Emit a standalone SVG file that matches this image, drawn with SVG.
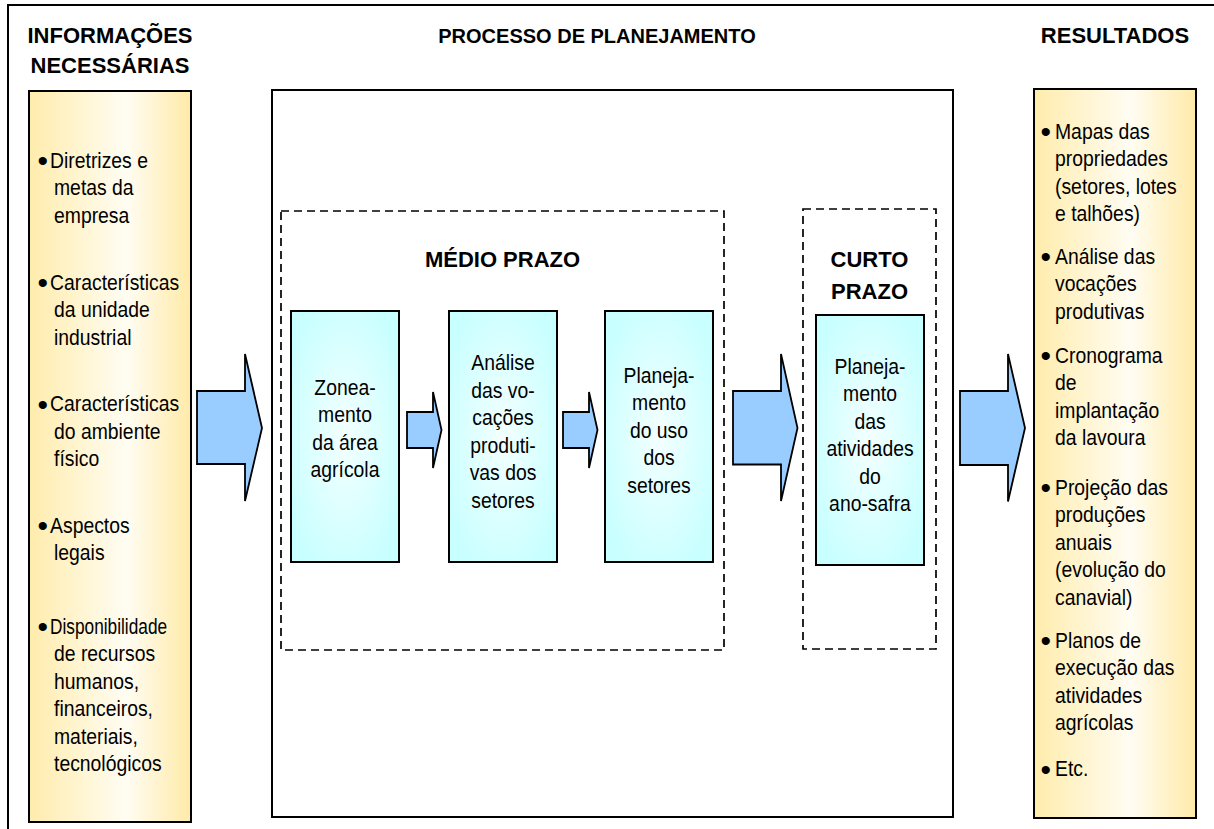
<svg xmlns="http://www.w3.org/2000/svg" width="1214" height="829" viewBox="0 0 1214 829">
  <defs>
    <linearGradient id="gradYellow" x1="0" y1="0" x2="1" y2="0">
      <stop offset="0" stop-color="#FFECAC"/>
      <stop offset="0.6" stop-color="#FFFDF3"/>
      <stop offset="1" stop-color="#FFEAA8"/>
    </linearGradient>
    <radialGradient id="gradCyan" cx="0.5" cy="0.5" r="0.6">
      <stop offset="0" stop-color="#F4FFFF"/>
      <stop offset="1" stop-color="#C8FFFF"/>
    </radialGradient>
    <style>
      .frame { fill: none; stroke: #000; stroke-width: 2; }
      .panel { fill: #fff; stroke: #000; stroke-width: 2; }
      .yellow { fill: url(#gradYellow); stroke: #000; stroke-width: 2; }
      .cyan { fill: url(#gradCyan); stroke: #000; stroke-width: 2; }
      .dash { fill: none; stroke: #000; stroke-width: 1.7; stroke-dasharray: 8 5; }
      .arrow { fill: #99CCFF; stroke: #000; stroke-width: 1.8; stroke-linejoin: miter; }
      .head { font-family: "Liberation Sans", Arial, sans-serif; font-weight: bold; font-size: 22px; fill: #000; text-anchor: middle; }
      .title { font-size: 20px; }
      .body { font-family: "Liberation Sans", Arial, sans-serif; font-size: 22px; fill: #000; }
      .mid { text-anchor: middle; }
      .bul { font-family: "Liberation Sans", Arial, sans-serif; font-size: 30px; fill: #000; }
    </style>
  </defs>

  <!-- outer frame (top and left rules) -->
  <path class="frame" d="M8,829 V5 H1214"/>

  <!-- column headings -->
  <g id="headings">
    <text class="head" x="110" y="43">INFORMAÇÕES</text>
    <text class="head" x="110" y="73">NECESSÁRIAS</text>
    <text class="head title" x="597" y="43">PROCESSO DE PLANEJAMENTO</text>
    <text class="head" x="1115" y="43">RESULTADOS</text>
  </g>

  <!-- input information column -->
  <g id="inputs">
    <rect class="yellow" x="29" y="91" width="162" height="731"/>
    <g class="bul">
      <text x="37.5" y="171">•</text>
      <text x="37.5" y="293">•</text>
      <text x="37.5" y="414.5">•</text>
      <text x="37.5" y="536">•</text>
      <text x="37.5" y="637">•</text>
    </g>
    <g transform="translate(54,0) scale(0.88,1)">
      <text class="body" x="-4.5" y="168">Diretrizes e</text>
      <text class="body" x="0" y="195.5">metas da</text>
      <text class="body" x="0" y="223">empresa</text>
      <text class="body" x="-4.5" y="290">Características</text>
      <text class="body" x="0" y="317.5">da unidade</text>
      <text class="body" x="0" y="345">industrial</text>
      <text class="body" x="-4.5" y="411.5">Características</text>
      <text class="body" x="0" y="439">do ambiente</text>
      <text class="body" x="0" y="466.5">físico</text>
      <text class="body" x="-4.5" y="533">Aspectos</text>
      <text class="body" x="0" y="560.5">legais</text>
      <text class="body" x="-4.5" y="634" textLength="133" lengthAdjust="spacingAndGlyphs">Disponibilidade</text>
      <text class="body" x="0" y="661.5">de recursos</text>
      <text class="body" x="0" y="689">humanos,</text>
      <text class="body" x="0" y="716.5">financeiros,</text>
      <text class="body" x="0" y="744">materiais,</text>
      <text class="body" x="0" y="771.5">tecnológicos</text>
    </g>
  </g>

  <!-- planning process panel -->
  <g id="process">
    <rect class="panel" x="272" y="90" width="681" height="727"/>
  </g>

  <g id="medio-prazo">
    <rect class="dash" x="281" y="211" width="443" height="439"/>
    <text class="head" x="502.5" y="267">MÉDIO PRAZO</text>
  </g>

  <g id="curto-prazo">
    <rect class="dash" x="803" y="209" width="133" height="440"/>
    <text class="head" x="869.5" y="267">CURTO</text>
    <text class="head" x="869.5" y="298.5">PRAZO</text>
  </g>

  <g id="zoneamento">
    <rect class="cyan" x="291" y="311" width="108" height="251"/>
    <g transform="translate(345,0) scale(0.88,1)">
      <text class="body mid" x="0" y="395">Zonea-</text>
      <text class="body mid" x="0" y="422.5">mento</text>
      <text class="body mid" x="0" y="450">da área</text>
      <text class="body mid" x="0" y="477.5">agrícola</text>
    </g>
  </g>

  <g id="analise-vocacoes">
    <rect class="cyan" x="449" y="311" width="108" height="251"/>
    <g transform="translate(503,0) scale(0.88,1)">
      <text class="body mid" x="0" y="370.5">Análise</text>
      <text class="body mid" x="0" y="398">das vo-</text>
      <text class="body mid" x="0" y="425.5">cações</text>
      <text class="body mid" x="0" y="453">produti-</text>
      <text class="body mid" x="0" y="480.5">vas dos</text>
      <text class="body mid" x="0" y="508">setores</text>
    </g>
  </g>

  <g id="planejamento-uso">
    <rect class="cyan" x="605" y="311" width="108" height="251"/>
    <g transform="translate(659,0) scale(0.88,1)">
      <text class="body mid" x="0" y="383">Planeja-</text>
      <text class="body mid" x="0" y="410.5">mento</text>
      <text class="body mid" x="0" y="438">do uso</text>
      <text class="body mid" x="0" y="465.5">dos</text>
      <text class="body mid" x="0" y="493">setores</text>
    </g>
  </g>

  <g id="planejamento-ano-safra">
    <rect class="cyan" x="816" y="315" width="108" height="250"/>
    <g transform="translate(870,0) scale(0.88,1)">
      <text class="body mid" x="0" y="374">Planeja-</text>
      <text class="body mid" x="0" y="401.5">mento</text>
      <text class="body mid" x="0" y="429">das</text>
      <text class="body mid" x="0" y="456.5">atividades</text>
      <text class="body mid" x="0" y="484">do</text>
      <text class="body mid" x="0" y="511.5">ano-safra</text>
    </g>
  </g>

  <!-- results column -->
  <g id="results">
    <rect class="yellow" x="1034" y="89" width="162" height="729"/>
    <g class="bul">
      <text x="1040.5" y="142">•</text>
      <text x="1040.5" y="267">•</text>
      <text x="1040.5" y="366">•</text>
      <text x="1040.5" y="498">•</text>
      <text x="1040.5" y="651">•</text>
      <text x="1040.5" y="779.5">•</text>
    </g>
    <g transform="translate(1055,0) scale(0.88,1)">
      <text class="body" x="0" y="139">Mapas das</text>
      <text class="body" x="0" y="166.5">propriedades</text>
      <text class="body" x="0" y="194">(setores, lotes</text>
      <text class="body" x="0" y="221.5">e talhões)</text>
      <text class="body" x="0" y="264">Análise das</text>
      <text class="body" x="0" y="291.5">vocações</text>
      <text class="body" x="0" y="319">produtivas</text>
      <text class="body" x="0" y="363">Cronograma</text>
      <text class="body" x="0" y="390.5">de</text>
      <text class="body" x="0" y="418">implantação</text>
      <text class="body" x="0" y="445.5">da lavoura</text>
      <text class="body" x="0" y="495">Projeção das</text>
      <text class="body" x="0" y="522.5">produções</text>
      <text class="body" x="0" y="550">anuais</text>
      <text class="body" x="0" y="577.5">(evolução do</text>
      <text class="body" x="0" y="605">canavial)</text>
      <text class="body" x="0" y="648">Planos de</text>
      <text class="body" x="0" y="675.5">execução das</text>
      <text class="body" x="0" y="703">atividades</text>
      <text class="body" x="0" y="730.5">agrícolas</text>
      <text class="body" x="0" y="776.5">Etc.</text>
    </g>
  </g>

  <!-- flow arrows -->
  <g id="connectors">
    <polygon class="arrow" points="197,391 245,391 245,354 262,428 245,501 245,464 197,464"/>
    <polygon class="arrow" points="407,412 433,412 433,392 441.5,430 433,468 433,448 407,448"/>
    <polygon class="arrow" points="563,412 589,412 589,392 597.5,430 589,468 589,448 563,448"/>
    <polygon class="arrow" points="733,391 781,391 781,354 797.5,428 781,501 781,464.5 733,464.5"/>
    <polygon class="arrow" points="960,391 1008,391 1008,354 1025,428 1008,501.5 1008,465 960,465"/>
  </g>
</svg>
